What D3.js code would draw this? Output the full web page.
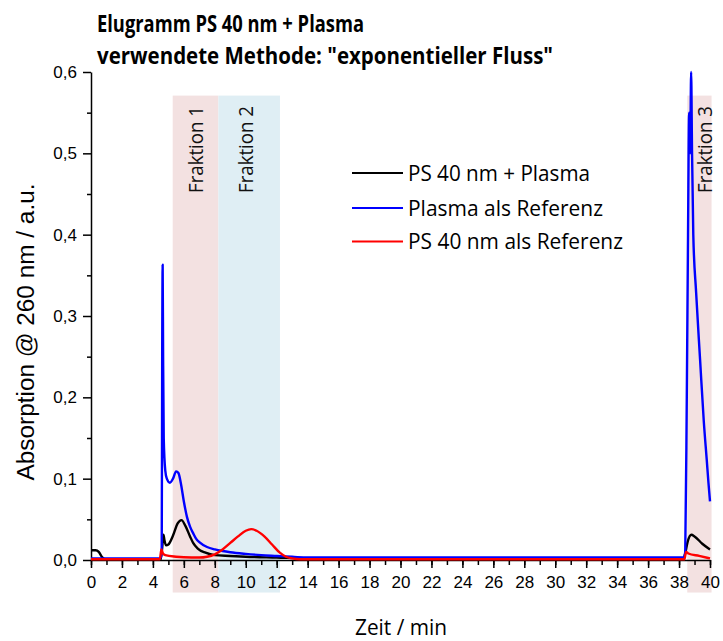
<!DOCTYPE html>
<html>
<head>
<meta charset="utf-8">
<script src="https://cdn.jsdelivr.net/npm/d3@7"></script>
<style>
  body { margin: 0; background: #fff; }
  text { fill: #000; }
  .tick text { font-family: "Liberation Sans", Arial, sans-serif; font-size: 17px; }
</style>
</head>
<body>
<div class="chart"></div>
<script>
// Elugramm data: [time in min, absorption]
var mixData = [
  [0, 0.012], [0.3, 0.012], [0.5, 0.010], [0.7, 0.004], [0.9, 0.001], [2, 0.0005],
  [4.5, 0.0005], [4.6, 0.015], [4.68, 0.031], [4.75, 0.024], [4.85, 0.018], [5.0, 0.019],
  [5.3, 0.030], [5.6, 0.045], [5.85, 0.049], [6.1, 0.042], [6.4, 0.029], [6.6, 0.021],
  [6.9, 0.014], [7.4, 0.009], [8.0, 0.006], [9, 0.005], [10, 0.004], [12, 0.003],
  [14, 0.002], [38.3, 0.002], [38.4, 0.008], [38.55, 0.022], [38.8, 0.031], [39.0, 0.029],
  [39.5, 0.020], [40, 0.013]
];
var plasmaData = [
  [0, 0.002], [4.4, 0.002], [4.5, 0.003], [4.57, 0.01], [4.6, 0.25], [4.63, 0.363],
  [4.66, 0.25], [4.7, 0.15], [4.8, 0.11], [4.9, 0.100], [5.1, 0.095], [5.3, 0.100],
  [5.5, 0.109], [5.65, 0.107], [5.8, 0.095], [6.0, 0.072], [6.2, 0.053], [6.4, 0.041],
  [6.6, 0.033], [6.8, 0.026], [7.0, 0.022], [7.5, 0.016], [8.0, 0.013], [8.5, 0.011],
  [9, 0.0095], [10, 0.0075], [11, 0.006], [12, 0.005], [13, 0.004], [14, 0.003],
  [20, 0.003], [30, 0.003], [38.3, 0.003], [38.4, 0.01], [38.5, 0.2], [38.58, 0.40],
  [38.65, 0.55], [38.72, 0.50], [38.78, 0.60], [38.84, 0.50], [38.92, 0.40], [39.1, 0.33],
  [39.36, 0.246], [39.6, 0.17], [39.79, 0.123], [39.9, 0.095], [40, 0.072]
];
var psData = [
  [0, 0.001], [4.45, 0.001], [4.55, 0.013], [4.65, 0.008], [4.8, 0.006], [5.5, 0.004],
  [6.5, 0.003], [7.0, 0.003], [7.5, 0.004], [8.0, 0.007], [8.5, 0.013], [9.0, 0.021],
  [9.5, 0.029], [10.0, 0.036], [10.35, 0.038], [10.7, 0.036], [11.2, 0.029], [11.7, 0.019],
  [12.2, 0.009], [12.6, 0.004], [13.0, 0.002], [13.5, 0.001], [38.35, 0.001], [38.45, 0.010],
  [38.6, 0.008], [39.3, 0.005], [40, 0.002]
];

var seriesNames = ["PS 40 nm + Plasma", "Plasma als Referenz", "PS 40 nm als Referenz"];
var seriesColors = ["#000000", "#0000ff", "#ff0000"];
var seriesData = [mixData, plasmaData, psData];

var fractionNames = ["Fraktion 1", "Fraktion 2", "Fraktion 3"];
var fractionStart = [5.28, 8.23, 38.53];
var fractionEnd = [8.23, 12.21, 40.1];
var fractionColors = ["#f3e1e1", "#dfeef4", "#f3e1e1"];

var xMajorTicks = d3.range(0, 41, 2);
var xMinorTicks = d3.range(0, 41, 1);
var yMajorTicks = [0, 0.1, 0.2, 0.3, 0.4, 0.5, 0.6];
var yMinorTicks = [0.05, 0.15, 0.25, 0.35, 0.45, 0.55];

var titleLines = ["Elugramm PS 40 nm + Plasma", "verwendete Methode: \"exponentieller Fluss\""];
var calibri = "'Open Sans', 'Noto Sans', sans-serif";

var svg = d3.select(".chart").append("svg")
            .attr("width", 723)
            .attr("height", 641);

var x = d3.scaleLinear().domain([0, 40]).range([91, 710]);
var y = d3.scaleLinear().domain([0, 0.6]).range([560, 72]);

// fraction bands
svg.selectAll("rect.band")
   .data(fractionNames)
   .enter().append("rect")
   .attr("class", "band")
   .attr("x", function(d, i){ return x(fractionStart[i]); })
   .attr("width", function(d, i){ return x(fractionEnd[i]) - x(fractionStart[i]); })
   .attr("y", y(0.571))
   .attr("height", y(-0.04) - y(0.571))
   .style("fill", function(d, i){ return fractionColors[i]; });

var labelX = [203, 253, 712];
svg.selectAll("text.band")
   .data(fractionNames)
   .enter().append("text")
   .attr("class", "band")
   .attr("transform", function(d, i){ return "translate(" + labelX[i] + ",106) rotate(-90)"; })
   .attr("text-anchor", "end")
   .style("font-family", calibri)
   .style("font-size", "20px")
   .attr("textLength", 87)
   .attr("lengthAdjust", "spacingAndGlyphs")
   .style("fill", "#111")
   .text(function(d){ return d; });

// axes
var comma = function(d){ return d3.format(".1f")(d).replace(".", ","); };

svg.append("g")
   .attr("transform", "translate(0,560)")
   .call(d3.axisBottom(x).tickValues(xMinorTicks).tickSize(5).tickFormat(""))
   .call(function(g){ g.select(".domain").remove(); });

svg.append("g")
   .attr("transform", "translate(0,560)")
   .call(d3.axisBottom(x).tickValues(xMajorTicks).tickSize(8).tickSizeOuter(0).tickPadding(8).tickFormat(d3.format("d")));

svg.append("g")
   .attr("transform", "translate(91,0)")
   .call(d3.axisLeft(y).tickValues(yMinorTicks).tickSize(4).tickFormat(""))
   .call(function(g){ g.select(".domain").remove(); });

svg.append("g")
   .attr("transform", "translate(91,0)")
   .call(d3.axisLeft(y).tickValues(yMajorTicks).tickSize(8).tickSizeOuter(0).tickPadding(6).tickFormat(comma));

svg.selectAll(".domain, .tick line")
   .style("stroke", "#000")
   .style("stroke-width", 1.5);

// lines
var line = d3.line()
             .x(function(d){ return x(d[0]); })
             .y(function(d){ return y(d[1]); })
             .curve(d3.curveMonotoneX);

svg.selectAll("path.series")
   .data(seriesData)
   .enter().append("path")
   .attr("class", "series")
   .attr("d", line)
   .style("fill", "none")
   .style("stroke", function(d, i){ return seriesColors[i]; })
   .style("stroke-width", 2.4)
   .style("stroke-linejoin", "round");

// legend
var legendY = [173, 208, 241.5];
var legendLen = [182, 195, 215];
var legend = svg.selectAll("g.legend")
                .data(seriesNames)
                .enter().append("g")
                .attr("class", "legend")
                .attr("transform", function(d, i){ return "translate(352," + legendY[i] + ")"; });

legend.append("line")
      .attr("x1", 0).attr("x2", 51)
      .style("stroke", function(d, i){ return seriesColors[i]; })
      .style("stroke-width", 2);

legend.append("text")
      .attr("x", 56)
      .attr("y", 7.5)
      .style("font-family", calibri)
      .style("font-size", "21px")
      .attr("textLength", function(d, i){ return legendLen[i]; })
      .attr("lengthAdjust", "spacingAndGlyphs")
      .text(function(d){ return d; });

// titles and axis labels
svg.selectAll("text.title")
   .data(titleLines)
   .enter().append("text")
   .attr("class", "title")
   .attr("x", 97)
   .attr("y", function(d, i){ return i === 0 ? 31.5 : 64; })
   .style("font-family", calibri)
   .style("font-size", "23px")
   .style("font-weight", "bold")
   .attr("textLength", function(d, i){ return i === 0 ? 267 : 456; })
   .attr("lengthAdjust", "spacingAndGlyphs")
   .text(function(d){ return d; });

svg.append("text")
   .attr("x", 401)
   .attr("y", 635)
   .attr("text-anchor", "middle")
   .style("font-family", calibri)
   .style("font-size", "22px")
   .attr("textLength", 92)
   .attr("lengthAdjust", "spacingAndGlyphs")
   .text("Zeit / min");

svg.append("text")
   .attr("transform", "translate(34,332) rotate(-90)")
   .attr("text-anchor", "middle")
   .style("font-family", "'Liberation Sans', Arial, sans-serif")
   .style("font-size", "23px")
   .attr("textLength", 297)
   .attr("lengthAdjust", "spacingAndGlyphs")
   .text("Absorption @ 260 nm / a.u.");
</script>
</body>
</html>
